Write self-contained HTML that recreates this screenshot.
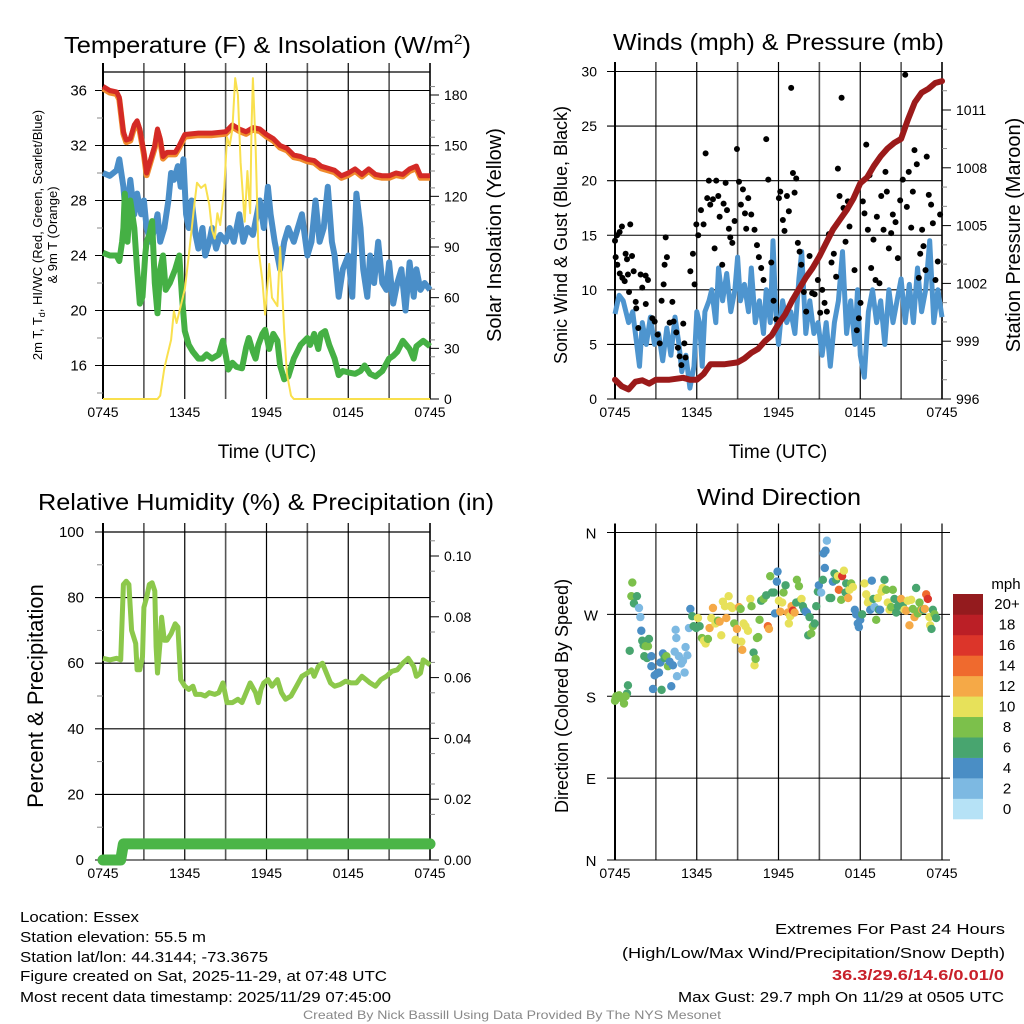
<!DOCTYPE html>
<html><head><meta charset="utf-8"><style>
html,body{margin:0;padding:0;background:#fff}
svg{display:block;font-family:"Liberation Sans",sans-serif}
</style></head><body>
<svg id="c" width="1024" height="1024" viewBox="0 0 1024 1024" xmlns="http://www.w3.org/2000/svg">
<rect width="1024" height="1024" fill="#fff"/>
<g id="g1"></g>
<g id="g2"></g>
<g id="g3"></g>
<g id="g4"></g>
<g font-size="23">
<text x="64" y="53" textLength="407" lengthAdjust="spacingAndGlyphs">Temperature (F) &amp; Insolation (W/m<tspan font-size="14" dy="-9">2</tspan><tspan dy="9">)</tspan></text>
<text x="613" y="50" textLength="331" lengthAdjust="spacingAndGlyphs">Winds (mph) &amp; Pressure (mb)</text>
<text x="38" y="510" textLength="456" lengthAdjust="spacingAndGlyphs">Relative Humidity (%) &amp; Precipitation (in)</text>
<text x="697" y="505" textLength="164" lengthAdjust="spacingAndGlyphs">Wind Direction</text>
</g>
<g>
<text font-size="13" transform="translate(42,235) rotate(-90)" text-anchor="middle">2m T, T<tspan font-size="9" dy="3">d</tspan><tspan dy="-3">, HI/WC (Red, Green, Scarlet/Blue)</tspan></text>
<text font-size="13" transform="translate(57,235) rotate(-90)" text-anchor="middle">&amp; 9m T (Orange)</text>
<text font-size="20" transform="translate(501,235) rotate(-90)" text-anchor="middle">Solar Insolation (Yellow)</text>
<text font-size="19" x="267" y="458" text-anchor="middle">Time (UTC)</text>
<text font-size="18" transform="translate(567,235) rotate(-90)" text-anchor="middle">Sonic Wind &amp; Gust (Blue, Black)</text>
<text font-size="20" transform="translate(1020,235) rotate(-90)" text-anchor="middle">Station Pressure (Maroon)</text>
<text font-size="19" x="778" y="458" text-anchor="middle">Time (UTC)</text>
<text font-size="22" transform="translate(43,696) rotate(-90)" text-anchor="middle">Percent &amp; Precipitation</text>
<text font-size="18" transform="translate(568,696) rotate(-90)" text-anchor="middle">Direction (Colored By Speed)</text>
</g>
<g font-size="15">
<text x="20" y="922" textLength="119" lengthAdjust="spacingAndGlyphs">Location: Essex</text>
<text x="20" y="942" textLength="186" lengthAdjust="spacingAndGlyphs">Station elevation: 55.5 m</text>
<text x="20" y="962" textLength="248" lengthAdjust="spacingAndGlyphs">Station lat/lon: 44.3144; -73.3675</text>
<text x="20" y="981" textLength="367" lengthAdjust="spacingAndGlyphs">Figure created on Sat, 2025-11-29, at 07:48 UTC</text>
<text x="20" y="1002" textLength="371" lengthAdjust="spacingAndGlyphs">Most recent data timestamp: 2025/11/29 07:45:00</text>
<text x="775" y="934" textLength="230" lengthAdjust="spacingAndGlyphs">Extremes For Past 24 Hours</text>
<text x="622" y="958" textLength="383" lengthAdjust="spacingAndGlyphs">(High/Low/Max Wind/Precipitation/Snow Depth)</text>
<text x="832" y="980" font-weight="bold" fill="#c8202a" textLength="172" lengthAdjust="spacingAndGlyphs">36.3/29.6/14.6/0.01/0</text>
<text x="678" y="1002" textLength="326" lengthAdjust="spacingAndGlyphs">Max Gust: 29.7 mph On 11/29 at 0505 UTC</text>
<text x="303" y="1019" font-size="12" fill="#888" textLength="418" lengthAdjust="spacingAndGlyphs">Created By Nick Bassill Using Data Provided By The NYS Mesonet</text>
</g>
</svg>
<script>
// ---------- data ----------
const timeTicks=["0745","1345","1945","0145","0745"];
const tempHours=[0,0.5,1,1.2,1.5,1.7,2,2.3,2.5,2.7,3,3.2,3.5,3.8,4,4.2,4.4,4.7,5,5.3,5.6,5.9,6,7,8,9,9.5,10,10.5,11,11.5,12,12.5,13,13.5,14,14.5,15,15.5,16,17,17.5,18,18.5,19,19.5,20,20.5,21,21.5,22,22.5,23,23.3,24];
const tempF=[36.3,36,35.9,35.5,33,32.4,32.5,33.5,33.8,33.2,31.5,30,31,32,33.2,32.5,31.2,31.5,31.5,31.5,32,32.6,32.8,32.9,32.9,33,33.5,33.2,33,33.3,33.2,32.8,32.5,32,31.8,31.3,31.2,31,30.9,30.5,30.2,29.8,30,30.3,29.9,30.3,29.9,29.8,29.8,30,29.9,30.3,30.5,29.8,29.8];
const windChillHours=[0,0.5,1,1.2,1.5,1.7,2,2.3,2.5,2.8,3,3.2,3.5,3.8,4,4.2,4.5,4.8,5,5.2,5.5,5.7,5.9,6.1,6.3,6.5,6.8,7,7.3,7.5,7.8,8,8.3,8.6,9,9.3,9.6,10,10.3,10.6,11,11.5,11.8,12.1,12.3,12.6,13,13.3,13.6,14,14.3,14.6,15,15.3,15.6,15.9,16.2,16.5,16.8,17,17.3,17.6,18,18.3,18.6,18.9,19.1,19.4,19.6,19.9,20.2,20.5,20.8,21,21.3,21.6,21.9,22.2,22.5,22.8,23,23.3,23.6,24];
const windChillF=[30,29.8,30.2,31,29,26.5,29.5,27,28.5,27,28,26,25,26,27,25,26,28,30,29.5,30.5,29,31,27,26,28,25.5,24.5,26,24,25,26,24.5,25.5,25,26,25,27,25,26,25.5,28,26,29,27,25,23,25,26,25,26,27,24,25,28,25,26,29,25,24,21,23,24,21,28.5,26,23,21,24,22,25,22,21.5,23.5,20.5,22,23,20,23.5,21,23,21.5,22,21.5];
const dewHours=[0,0.5,1,1.2,1.4,1.5,1.6,1.8,2,2.3,2.5,2.7,2.9,3.1,3.2,3.4,3.6,3.8,4,4.2,4.4,4.6,4.9,5.3,5.6,5.8,6,6.3,6.6,7,7.3,7.6,8,8.5,8.8,9,9.2,9.5,9.8,10.2,10.5,10.7,11,11.2,11.4,11.7,11.9,12.2,12.5,12.8,13,13.3,13.6,14,14.5,15,15.2,15.5,15.8,16,16.3,16.6,17,17.3,17.6,18,18.5,18.9,19.2,19.6,20,20.5,21,21.3,21.6,22,22.5,22.8,23,23.5,24];
const dewF=[24.2,24,24,23.6,25,26,28.5,25,28,26,23,20.5,21,24,25,25.5,26.5,22,19.8,23,24,21.5,22,23,24,21,18.5,17.5,17,16.5,16.5,16.8,16.5,16.8,17.8,16.8,15.7,16.2,15.9,15.8,17.3,18,17,16.5,17.5,18.3,18.6,17.2,18.3,17.8,16,15,15.2,16.5,17.5,18,17.5,18.3,17.2,18.3,18.5,17.5,16.5,15.3,15.6,15.5,15.4,15.6,16,15.4,15.2,15.6,16.5,16.7,17,17.8,17.2,16.5,17.4,17.8,17.4];
const solarHours=[0,4,4.2,4.5,4.7,5,5.2,5.4,5.7,6,6.3,6.7,6.9,7.2,7.5,7.8,8,8.2,8.4,8.6,8.9,9.1,9.3,9.5,9.7,9.9,10.1,10.4,10.6,10.8,10.9,11,11.2,11.4,11.7,11.9,12.2,12.4,12.8,13,13.3,13.5,13.8,14,24];
const solarWm2=[0,0,2,18,25,35,52,45,55,65,85,115,128,125,127,115,100,95,110,103,125,155,150,160,190,180,140,105,135,110,160,190,150,90,70,50,80,60,55,90,40,15,2,0,0];
const tempTicks=[16,20,24,28,32,36];
const solarTicks=[0,30,60,90,120,150,180];

const windHours=[0,0.3,0.6,1,1.3,1.5,1.8,2,2.3,2.6,2.9,3.2,3.5,3.8,4.1,4.4,4.7,4.9,5.2,5.5,5.8,6,6.2,6.4,6.6,6.9,7.1,7.4,7.6,7.9,8.2,8.5,8.8,9,9.2,9.5,9.8,10,10.3,10.6,10.9,11.1,11.4,11.6,11.8,12,12.3,12.6,12.9,13.2,13.5,13.7,14,14.3,14.6,14.9,15.2,15.5,15.8,16.1,16.4,16.7,17,17.3,17.6,17.8,18,18.3,18.6,18.9,19.2,19.5,19.8,20.1,20.4,20.7,21,21.3,21.6,21.9,22.2,22.5,22.8,23.1,23.4,23.7,24];
const windMph=[7.8,9.5,9,7,8,6,3,7,5,7.5,5,6,3.5,6.5,4,7.5,5,2.5,4,1,3,8,7,3,8,9,10,7,12,9,11.5,8,10,13,9,10.5,8,12,7,9,6,10,7,14.5,8,5,9,7,8,6,11,13.5,6,9,6,7,4,7,3,7,9,13.5,6,9,5,10,4,2,8,10,7,9,5,10,7,9,11,7,10.5,7,12,8,10,14.5,7,10,7.5];
const gustHours=[0,0.15,0.34,0.51,0.05,0.17,0.35,0.54,0.71,1.12,0.78,0.88,0.95,1.03,1.25,1.37,1.52,1.56,1.71,1.88,2,2.25,2.42,2.26,2.74,2.91,3.13,3.28,3.42,3.57,3.72,3.81,3.64,4.01,4.21,4.3,4.5,4.62,4.74,4.87,5.01,5.09,5.18,5.53,5.72,5.84,5.97,6.11,6.31,6.5,6.65,6.77,6.89,6.99,7.19,7.31,7.43,7.58,7.68,7.87,7.97,8.12,8.22,8.36,8.46,8.61,8.78,8.95,9.1,9.24,9.39,9.54,9.63,9.78,10,10.24,10.42,10.56,10.73,10.9,11.1,11.25,11.47,11.64,11.83,12.03,12.13,12.32,12.44,12.62,12.76,12.93,13.06,13.18,13.3,13.42,13.55,13.67,13.86,14.03,14.28,14.47,14.65,14.89,15.06,15.21,15.38,15.55,15.7,15.89,16.06,16.23,16.36,16.48,16.63,16.77,16.92,17.09,17.21,17.36,17.58,17.75,17.9,18.02,18.19,18.31,18.44,18.56,18.68,18.8,18.97,19.12,19.22,19.41,19.54,19.71,19.85,19.95,20.1,20.27,20.39,20.59,20.76,20.93,21.12,21.3,21.42,21.56,21.74,21.86,21.98,22.15,22.3,22.4,22.54,22.64,22.79,22.88,23.03,23.2,23.33,23.52,23.69,23.86];
const gustMph=[14.5,15,15.3,15.8,13,12.3,11.5,11.1,10.8,16,13.3,12.8,11.4,9.8,13.1,11.7,8.9,8.3,6.5,11.4,10.2,11.3,10.9,8.7,7.4,7.1,5.9,5.1,9,10.5,14.8,13,12.3,7,8.9,7.1,6.1,4.7,3.9,3.1,6.9,5.1,3.8,11.7,13.3,10.5,16,15,17.3,16,22.5,18.4,20,17.8,18.3,13.8,20,18.6,16.7,12.3,17.9,19.8,17.3,15.6,14.8,14.3,16.3,22.9,19.9,17.8,19.2,17,15.6,18.4,16.9,15.5,14.1,13,12,10.9,23.8,20.1,12.5,9,7.3,18.4,19,16.4,15.4,18.6,17.2,28.5,20.7,18.9,20.2,14.3,13.5,12.3,9.8,8,13.1,9.7,9.6,10.9,7.9,10,8.8,8,15.1,12.5,13.3,11.2,21.1,18.6,27.6,17.5,14.4,18.1,15.8,18.1,11.8,6.3,7.4,8.8,18.1,17,23.3,15.5,20.5,12,14.6,10.9,16.7,10.6,18.6,15.5,20.8,19,13.8,15.2,16.9,16.2,12.9,18.2,20.1,29.7,17.6,20.8,15.7,19,22.8,21.5,11.1,13.3,15.5,14,11.8,22.2,18.7,17.8,16.1,10.9,12.6,16.9];
const pressHours=[0,0.5,1,1.5,2,2.5,3,4,5,5.5,6,6.5,7,8,9,9.5,10,10.5,11,11.5,12,12.5,13,13.5,14,14.5,15,15.5,16,16.5,17,17.5,18,18.5,19,19.5,20,20.5,21,21.5,22,22.5,23,23.5,24];
const pressMb=[997,996.66,996.5,996.9,996.97,996.8,997,997,997.1,997,997,997.3,997.8,997.8,997.9,998.1,998.4,998.6,999,999.3,999.9,1000.4,1001.1,1001.7,1002.3,1002.8,1003.4,1004.1,1004.8,1005.3,1005.8,1006.4,1007.2,1007.5,1008.1,1008.6,1009,1009.3,1009.5,1010.5,1011.4,1011.9,1012.1,1012.4,1012.5];
const windTicks=[0,5,10,15,20,25,30];
const pressTicks=[996,999,1002,1005,1008,1011];

const rhHours=[0,0.5,1,1.3,1.5,1.7,1.9,2.1,2.4,2.5,2.7,2.9,3,3.2,3.4,3.6,3.8,3.9,4,4.2,4.3,4.5,4.7,5,5.3,5.5,5.7,6,6.3,6.6,6.8,7.2,7.5,7.8,8.2,8.5,8.8,9.1,9.5,9.9,10.2,10.5,10.8,11.2,11.4,11.6,11.8,12.1,12.4,12.8,13.1,13.4,13.8,14.2,14.6,15,15.3,15.5,15.8,16.1,16.4,16.7,17,17.4,17.8,18.2,18.6,19,19.3,19.6,20,20.4,20.8,21.2,21.6,22,22.4,22.8,23,23.3,23.5,24];
const rhPct=[61.5,61,61.5,61,84,85,84,70,66,58,58,62,77,80,84,84.5,82,65,57,67,74,67,67,69,72,71,55,53,52,53,50.5,50.5,50,51,50.5,51,54,48,48,49,48,51,54,51,48,52,54,55,53,55,51,49,50,53,56,57,58,56,59,60,57,54,53,53.5,54.5,54,54,56,55,54,53,55,56,57.5,58,60,61.5,59,56,57,61,59.5];
const precipHours=[0,1.3,1.5,24];
const precipIn=[0,0,0.0053,0.0053];
const rhTicks=[0,20,40,60,80,100];
const precipTicks=["0.00","0.02","0.04","0.06","0.08","0.10"];

const dirHours=[0,0.1,0.3,0.46,0.66,0.88,0.95,0.05,0.78,1.08,1.27,1.2,1.39,1.61,1.76,1.86,1.93,2,2.1,2.25,2.42,2.49,2.15,2.35,2.67,2.67,2.91,3.08,3.23,2.79,3.42,3.33,3.52,3.64,3.77,3.89,4.01,4.13,4.25,4.38,4.45,4.5,4.55,4.69,4.87,4.99,5.11,5.18,5.31,5.43,5.53,5.67,5.77,5.97,6.09,6.21,6.38,6.53,6.65,6.82,6.94,7.07,7.19,7.38,7.56,7.68,7.8,7.92,8.07,8.17,8.34,8.46,8.61,8.75,8.85,8.95,9.1,9.22,9.34,9.27,9.44,9.58,9.76,9.93,10.02,10.17,10.24,10.32,10.42,10.51,10.61,10.73,10.9,11.1,11.22,11.3,11.39,11.52,11.66,11.74,11.88,11.93,12.03,12.13,12.27,12.37,12.52,12.69,12.76,12.86,12.96,13.06,13.18,13.3,13.35,13.5,13.59,13.69,13.79,13.89,13.99,14.08,14.18,14.28,14.4,14.52,14.65,14.77,14.89,14.96,15.13,15.31,15.45,15.55,15.4,15.26,15.75,15.87,15.99,16.11,16.23,16.36,16.43,16.6,16.67,16.8,16.92,16.97,17.11,17.21,17.33,17.46,17.6,17.7,17.82,17.9,18,18.14,18.31,18.44,18.56,18.63,18.73,18.85,18.97,19.05,19.17,19.29,19.36,19.46,19.56,19.66,19.78,19.9,20.02,20.15,20.27,20.39,20.51,20.64,20.76,20.88,21,21.12,21.25,21.37,21.49,21.61,21.74,21.86,21.98,22.1,22.22,22.35,22.47,22.54,22.64,22.74,22.84,22.96,23.08,23.13,23.23,23.33,23.45,23.57,23.69,23.81,23.94];
const dirDeg=[175,180,181,178,172,183,192,178,180,230,305,290,282,290,277,267,252,241,236,235,235,243,224,222,224,213,203,205,206,188,187,217,227,222,224,213,218,191,214,229,253,244,202,224,216,219,206,234,225,255,276,268,257,255,266,257,244,241,238,243,255,266,277,260,263,262,247,284,279,266,290,279,277,260,242,254,278,276,231,240,260,257,252,287,279,228,214,221,244,245,264,285,287,291,257,254,312,294,294,271,306,317,285,273,283,294,302,272,260,268,279,274,272,283,308,301,285,287,279,275,273,272,247,267,249,257,260,279,295,302,294,337,340,351,321,308,288,288,306,315,308,312,297,286,312,318,294,304,288,297,304,300,275,270,260,256,264,270,304,292,283,286,275,307,287,278,264,288,275,275,295,299,308,297,283,275,278,297,287,272,279,283,287,279,275,274,285,258,286,276,267,299,271,283,276,275,275,276,292,287,267,258,254,275,270,266];
const dirSpeed=[8,8,8,8,8,6,6,8,8,6,8,8,6,6,2,2,4,6,6,8,8,6,6,6,4,4,4,4,4,4,6,4,4,6,8,8,4,4,4,2,2,2,2,2,2,2,2,2,2,2,4,6,6,6,10,6,8,10,10,8,12,10,12,10,8,12,10,10,10,12,10,10,10,8,10,12,12,8,12,10,10,10,10,10,8,6,10,8,8,8,8,6,8,6,14,12,8,6,6,4,4,4,10,12,10,8,6,12,10,10,12,16,12,6,8,8,6,10,6,6,4,4,6,6,8,8,6,6,6,4,2,4,4,2,4,6,6,6,4,6,6,10,14,8,16,10,6,6,12,10,8,10,4,4,4,4,4,6,10,10,10,10,4,4,6,2,8,10,6,4,10,10,6,8,10,10,8,8,6,6,6,6,12,6,10,12,10,12,10,8,12,6,8,8,8,12,6,12,14,16,10,10,6,6,8,6,10,6];
const speedLabels=["0","2","4","6","8","10","12","14","16","18","20+"];
const dirLabels=["N","E","S","W","N"];

// ---------- helpers ----------
const NS="http://www.w3.org/2000/svg";
function mk(parent,tag,attrs){const e=document.createElementNS(NS,tag);for(const k in attrs)e.setAttribute(k,attrs[k]);parent.appendChild(e);return e;}
function lin(d0,d1,r0,r1){return v=>r0+(v-d0)*(r1-r0)/(d1-d0);}
function pathD(xs,ys,fx,fy){const n=Math.min(xs.length,ys.length);let d="";for(let i=0;i<n;i++)d+=(i?"L":"M")+fx(xs[i]).toFixed(1)+" "+fy(ys[i]).toFixed(1);return d;}
const speedColors=["#b6e2f6","#7db9e2","#4a8ec5","#48a56f","#7cc04b","#e7e15a","#f5a947","#ef6a2e","#dc352a","#bb1f26","#941b1e"];

function frame(g,L,R,T,B,gridYs,topLine,x0){
  const fx=lin(0,24,L,R);
  for(let i=0;i<=8;i++){const x=fx(i*3);
    const l=mk(g,"line",{x1:x,x2:x,y1:T-9,y2:B,stroke:i%2?"#555":"#000","stroke-width":i%2?1.6:1.2});
    
    }
  gridYs.forEach(y=>{const l=mk(g,"line",{x1:x0,x2:R,y1:y,y2:y,stroke:"#000","stroke-width":1.1});
    
    });
  if(topLine) mk(g,"line",{x1:L,x2:R,y1:T,y2:T,stroke:"#000","stroke-width":1.2});
  mk(g,"line",{x1:L,x2:L,y1:T-9,y2:B,stroke:"#000","stroke-width":2});
  timeTicks.forEach((t,i)=>{const tx=mk(g,"text",{x:fx(i*6),y:B+18,"font-size":14,"text-anchor":"middle"});tx.textContent=t;
    
    });
  return fx;
}
function rightAxis(g,R,T,B,ys,labels,minors){
  mk(g,"line",{x1:R,x2:R,y1:T-9,y2:B,stroke:"#000","stroke-width":1.5});
  minors.forEach(y=>mk(g,"line",{x1:R,x2:R+5,y1:y,y2:y,stroke:"#888","stroke-width":1}));
  ys.forEach((y,i)=>{mk(g,"line",{x1:R,x2:R+9,y1:y,y2:y,stroke:"#000","stroke-width":1});
    const t=mk(g,"text",{x:R+14,y:y+5,"font-size":14});t.textContent=labels[i];
    
    });
}
function leftLabels(g,x,ys,labels,size){
  ys.forEach((y,i)=>{const t=mk(g,"text",{x:x,y:y+5,"font-size":size||14,"text-anchor":"end"});t.textContent=labels[i];
    
    });
}

// ---------- panel 1 ----------
(function(){
  const g=document.getElementById("g1");
  const L=103,R=430,T=72,B=399;
  const fy=lin(36,32,90.5,145.5), fs=lin(0,180,399,95);
  const fx=frame(g,L,R,T,B,tempTicks.map(fy),true,95);
  [14,18,22,26,30,34].forEach(v=>mk(g,"line",{x1:97,x2:L,y1:fy(v),y2:fy(v),stroke:"#888"}));
  leftLabels(g,87,tempTicks.map(fy),tempTicks,15);
  const minor=[];for(let v=15;v<=190;v+=10) if(v%30) minor.push(fs(v));
  rightAxis(g,R,T,B,solarTicks.map(fs),solarTicks,minor);
  const s1=mk(g,"path",{d:pathD(tempHours,tempF.map(v=>v-0.15),fx,fy),fill:"none",stroke:"#f08a2c","stroke-width":6,"stroke-linejoin":"round"});
  
  const s2=mk(g,"path",{d:pathD(windChillHours,windChillF,fx,fy),fill:"none",stroke:"#4a8ec8","stroke-width":6,"stroke-linejoin":"round"});
  
  const s3=mk(g,"path",{d:pathD(dewHours,dewF,fx,fy),fill:"none",stroke:"#45b044","stroke-width":6,"stroke-linejoin":"round"});
  
  const s4=mk(g,"path",{d:pathD(tempHours,tempF,fx,fy),fill:"none",stroke:"#d42a26","stroke-width":5,"stroke-linejoin":"round"});
  
  const s5=mk(g,"path",{d:pathD(solarHours,solarWm2,fx,fs),fill:"none",stroke:"#f9e04e","stroke-width":2,"stroke-linejoin":"round"});
  
})();

// ---------- panel 2 ----------
(function(){
  const g=document.getElementById("g2");
  const L=615,R=942,T=71,B=399;
  const fy=lin(0,30,399,71.5), fp=lin(996,1011,399,110);
  const fx=frame(g,L,R,T,B,windTicks.map(fy),false,607);
  leftLabels(g,597,windTicks.map(fy),windTicks,14);
  const minor=[];for(let v=997;v<=1012;v++) if((v-996)%3) minor.push(fp(v));
  rightAxis(g,R,T,B,pressTicks.map(fp),pressTicks,minor);
  const w=mk(g,"path",{d:pathD(windHours,windMph,fx,fy),fill:"none",stroke:"#4e95cf","stroke-width":5,"stroke-linejoin":"round"});
  
  const ng=Math.min(gustHours.length,gustMph.length);
  for(let i=0;i<ng;i++){const c=mk(g,"circle",{cx:fx(gustHours[i]),cy:fy(gustMph[i]),r:3,fill:"#000"});
    
    }
  const p=mk(g,"path",{d:pathD(pressHours,pressMb,fx,fp),fill:"none",stroke:"#9b1a1a","stroke-width":6,"stroke-linejoin":"round","stroke-linecap":"round"});
  
})();

// ---------- panel 3 ----------
(function(){
  const g=document.getElementById("g3");
  const L=103,R=430,T=532,B=860;
  const fy=lin(0,100,860,532), fp=lin(0,0.1,860,556);
  const fx=frame(g,L,R,T,B,rhTicks.map(fy),true,95);
  leftLabels(g,84,rhTicks.map(fy),rhTicks,15);
  const minor=[];for(let v=0.005;v<=0.106;v+=0.01) minor.push(fp(v));
  rightAxis(g,R,T,B,precipTicks.map(v=>fp(+v)),precipTicks,minor);
  [10,30,50,70,90].forEach(v=>mk(g,"line",{x1:97,x2:L,y1:fy(v),y2:fy(v),stroke:"#888"}));
  const rh=mk(g,"path",{d:pathD(rhHours,rhPct,fx,fy),fill:"none",stroke:"#8cc84b","stroke-width":5,"stroke-linejoin":"round"});
  
  const pr=mk(g,"path",{d:pathD(precipHours,precipIn,fx,fp),fill:"none",stroke:"#4bb547","stroke-width":11,"stroke-linejoin":"round","stroke-linecap":"round"});
  
})();

// ---------- panel 4 ----------
(function(){
  const g=document.getElementById("g4");
  const L=615,R=942,T=532.5,B=860;
  const fy=lin(0,360,860,532.5);
  const fx=frame(g,L,R,T,B,[0,90,180,270,360].map(fy),false,607);
  g.querySelectorAll('line').forEach(l=>{if(l.getAttribute('x2')==R&&l.getAttribute('y1')==l.getAttribute('y2'))l.setAttribute('x2',950);});
  [0,90,180,270,360].forEach((d,i)=>{const t=mk(g,"text",{x:591,y:fy(d)+6,"font-size":15,"text-anchor":"middle"});t.textContent=dirLabels[i];
    
    });
  const nd=Math.min(dirHours.length,dirDeg.length,dirSpeed.length);
  for(let i=0;i<nd;i++){const idx=Math.min(10,Math.max(0,Math.round(dirSpeed[i]/2)));
    const c=mk(g,"circle",{cx:fx(dirHours[i]),cy:fy(dirDeg[i]),r:4.2,fill:speedColors[idx]});
    
    }
  const cb=mk(g,"g",{});
  
  
  const h=(819-594)/11;
  speedLabels.forEach((lab,i)=>{const y=819-(i+1)*h;
    mk(cb,"rect",{x:953,y:y,width:30,height:h+0.3,fill:speedColors[i]});
    const t=mk(cb,"text",{x:1007,y:y+h/2+5,"font-size":15,"text-anchor":"middle"});t.textContent=lab;
    
    });
  const m=mk(cb,"text",{x:1006,y:589,"font-size":15,"text-anchor":"middle"});m.textContent="mph";
  
  
})();
</script>
</body></html>
